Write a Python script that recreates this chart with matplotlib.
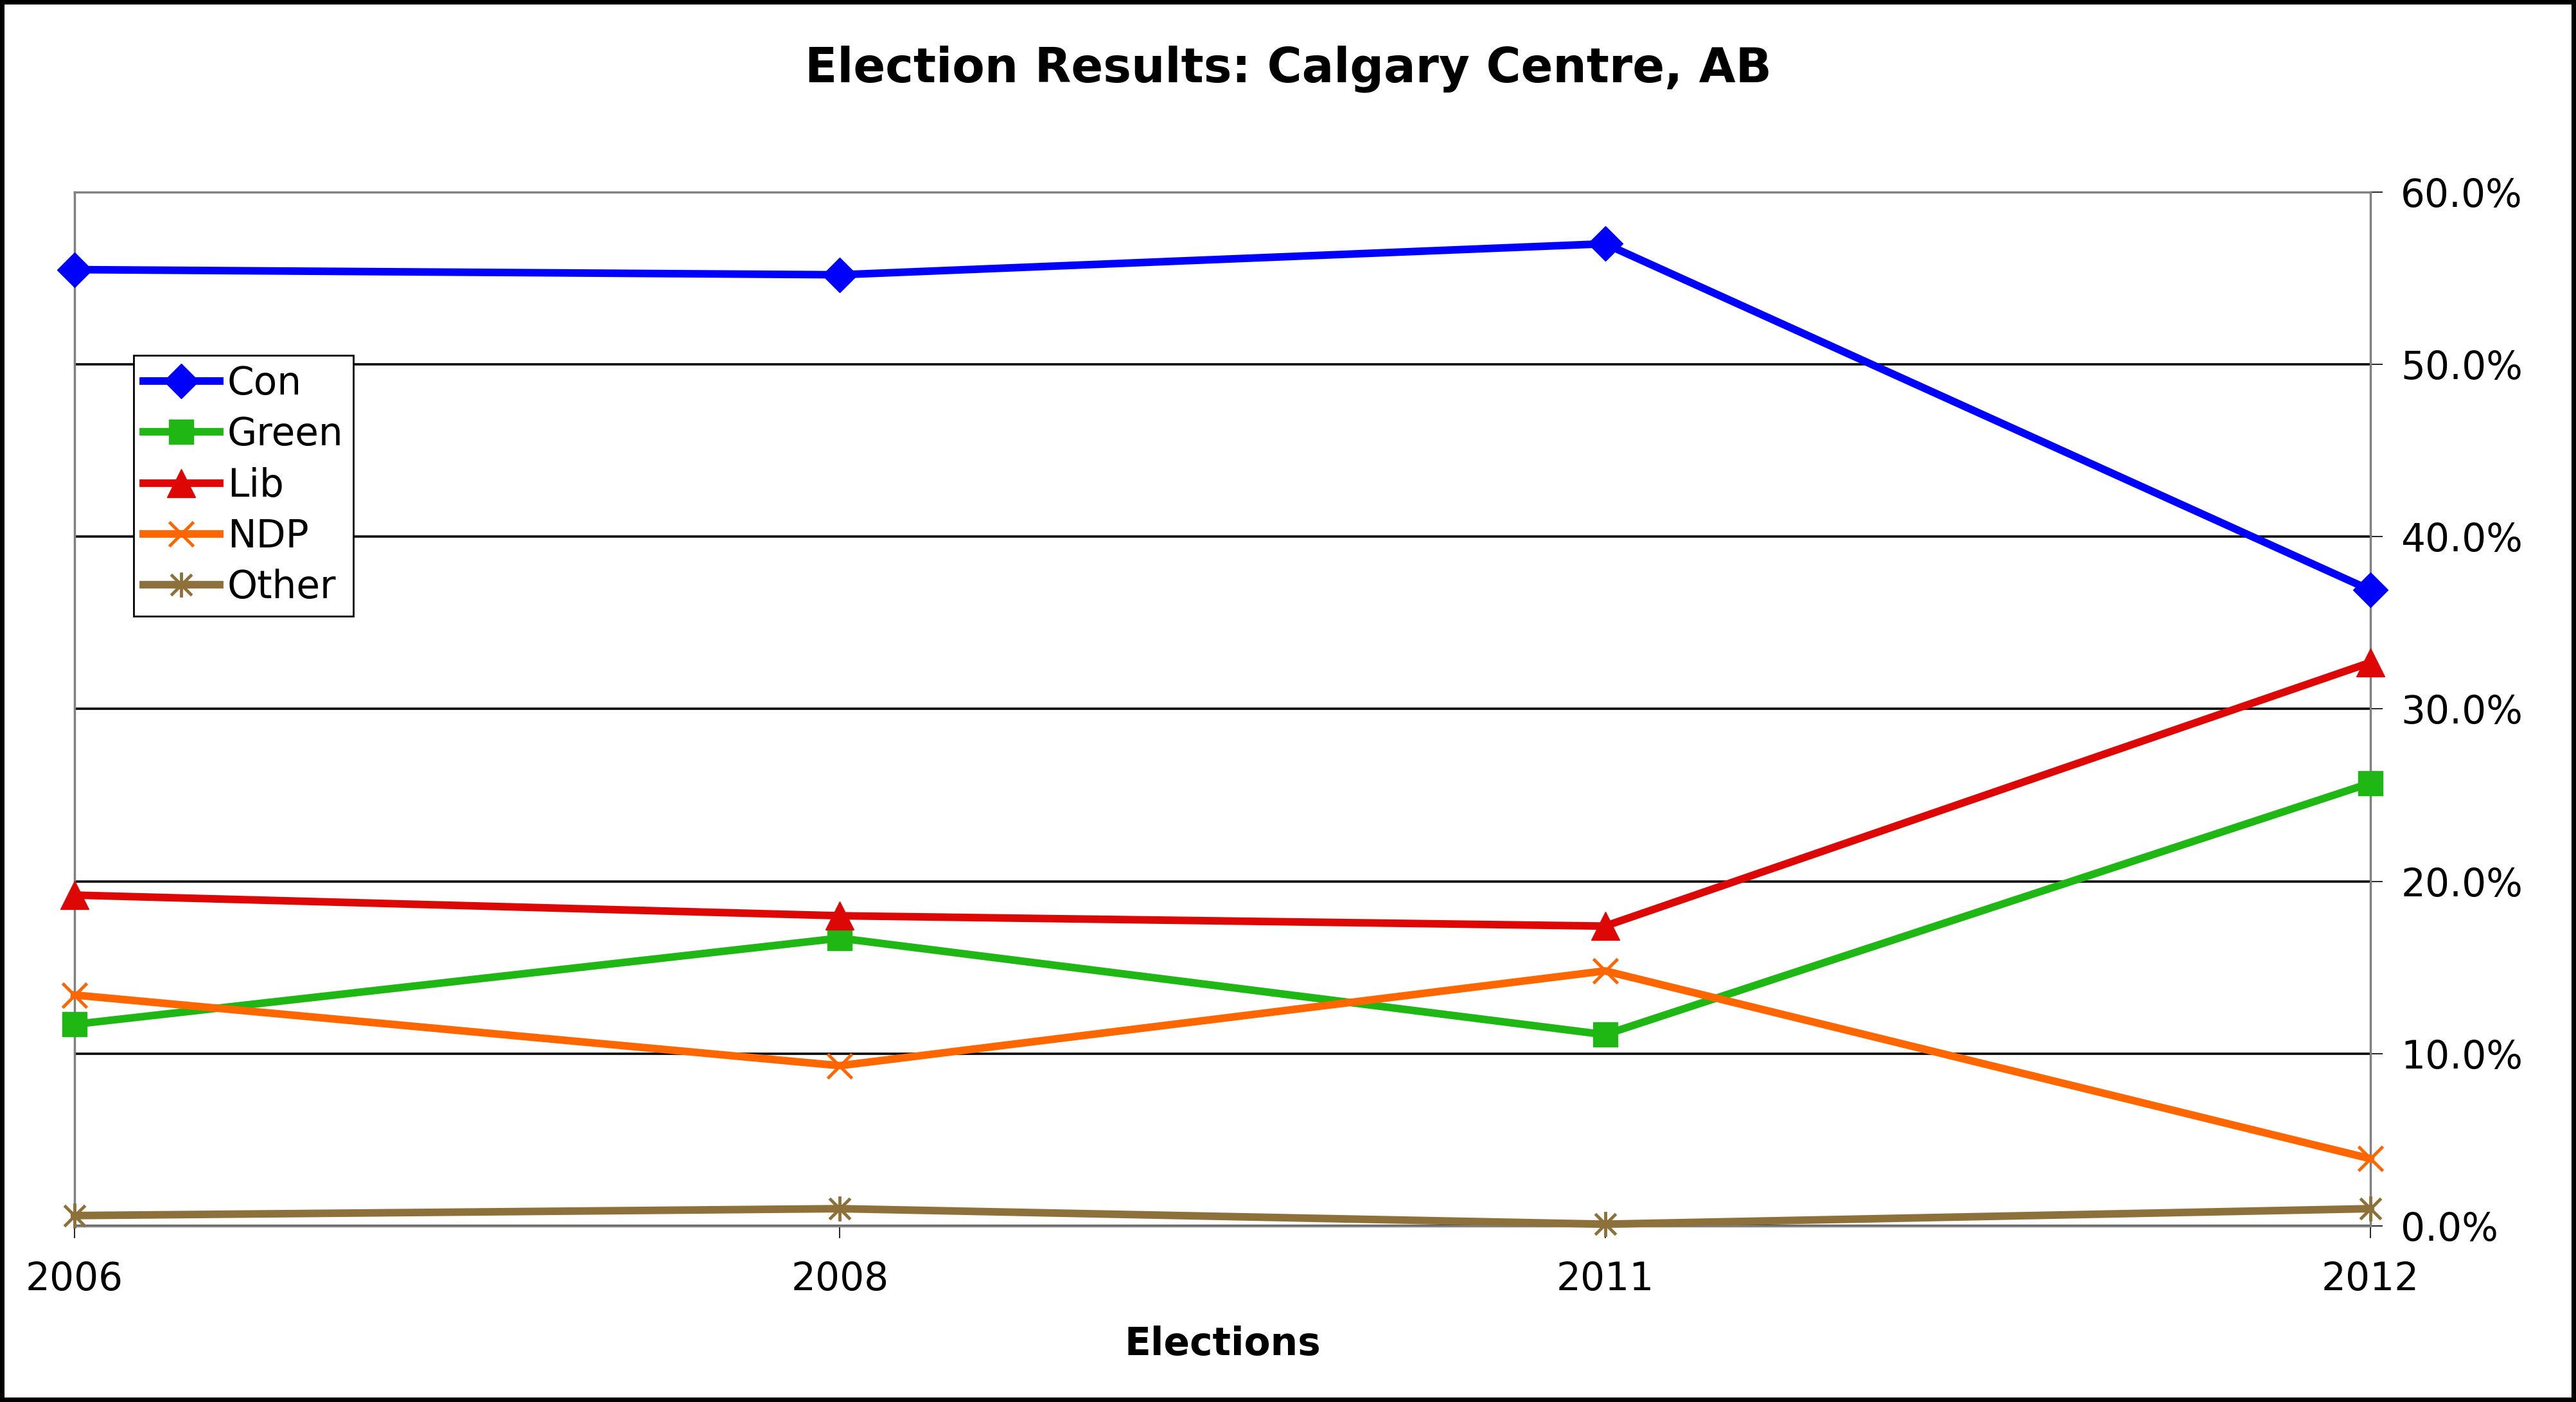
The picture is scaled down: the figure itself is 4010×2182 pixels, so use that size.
import matplotlib
matplotlib.use("Agg")
import matplotlib.pyplot as plt
from matplotlib.path import Path
from matplotlib.ticker import FuncFormatter

# election years (even spacing, categorical)
years = ["2006", "2008", "2011", "2012"]

# vote share in percent
con = [55.5, 55.2, 57.0, 36.9]
green = [11.7, 16.7, 11.1, 25.7]
lib = [19.2, 18.0, 17.4, 32.7]
ndp = [13.4, 9.3, 14.8, 3.9]
other = [0.6, 1.0, 0.1, 1.0]

plt.rcParams['font.family'] = ['DejaVu Sans']

# asterisk marker: x plus vertical line
star = Path([(-1, -1), (1, 1), (-1, 1), (1, -1), (0, -1.2), (0, 1.2)],
            [Path.MOVETO, Path.LINETO, Path.MOVETO, Path.LINETO, Path.MOVETO, Path.LINETO])

fig = plt.figure(figsize=(40.10, 21.82), dpi=100)
fig.patch.set_edgecolor('black')
fig.patch.set_linewidth(10)

ax = fig.add_axes([0.0289, 0.1256, 0.8913, 0.7374])

x = range(len(years))
lw = 8.5
ax.plot(x, con, color='#0000FF', lw=lw, marker='D', ms=28, label='Con', clip_on=False, zorder=5)
ax.plot(x, green, color='#1FB714', lw=lw, marker='s', ms=28, label='Green', clip_on=False, zorder=5)
ax.plot(x, lib, color='#DD0806', lw=lw, marker='^', ms=31, label='Lib', clip_on=False, zorder=5)
ax.plot(x, ndp, color='#FF6600', lw=lw, marker='x', ms=28, mew=3.5, label='NDP', clip_on=False, zorder=5)
ax.plot(x, other, color='#8E713A', lw=lw, marker=star, ms=28, mew=3.5, label='Other', clip_on=False, zorder=5)

ax.set_xlim(0, 3)
ax.set_ylim(0, 60)
ax.set_xticks(list(x))
ax.set_xticklabels(years)
ax.set_yticks(range(0, 61, 10))
ax.yaxis.set_major_formatter(FuncFormatter(lambda v, p: '%.1f%%' % v))
ax.yaxis.tick_right()
ax.tick_params(axis='both', direction='out', length=14, width=1.2, labelsize=43, colors='black')
ax.tick_params(axis='y', pad=20)
ax.tick_params(axis='x', pad=25)

ax.grid(axis='y', color='black', lw=2.6)
ax.set_axisbelow(True)
for s in ax.spines.values():
    s.set_color('#808080')
    s.set_linewidth(2.5)

ax.set_xlabel('Elections', fontsize=43, fontweight='bold', labelpad=30)
fig.text(0.5, 1 - 107 / 2182, 'Election Results: Calgary Centre, AB',
         ha='center', va='center', fontsize=53, fontweight='bold')

leg = ax.legend(loc='upper left', bbox_to_anchor=(0.0257, 0.842), fontsize=43, numpoints=1,
                handlelength=2.0, handletextpad=0.2, labelspacing=0.34, borderpad=0.25,
                borderaxespad=0, fancybox=False, framealpha=1)
leg.get_frame().set_edgecolor('black')
leg.get_frame().set_linewidth(2)

plt.savefig('out.png', dpi=100)
